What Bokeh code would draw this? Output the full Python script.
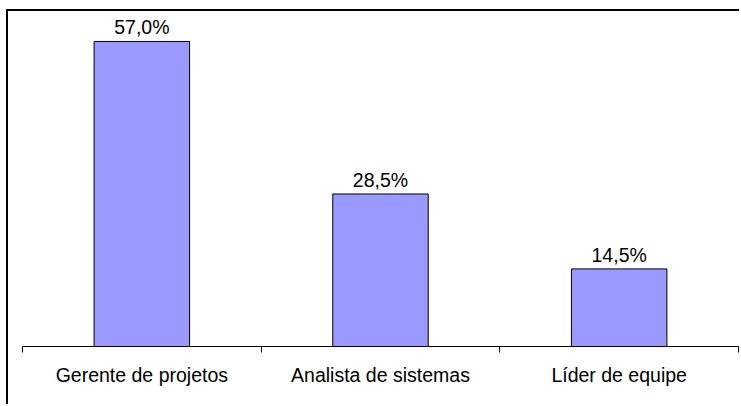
from bokeh.plotting import figure
from bokeh.models import ColumnDataSource, Range1d, LinearAxis, FixedTicker
from bokeh.core.properties import value
from bokeh.embed import file_html
from bokeh.resources import INLINE

# Data
categories = ["Gerente de projetos", "Analista de sistemas", "Líder de equipe"]
shares = [57.0, 28.5, 14.5]
share_labels = [f"{v:.1f}%".replace(".", ",") for v in shares]

FONT = "Liberation Sans"

# Each category occupies one unit-wide slot; bars sit at the slot centres
n = len(categories)
centres = [i + 0.5 for i in range(n)]
source = ColumnDataSource(dict(x=centres, share=shares, label=share_labels))

p = figure(
    x_range=Range1d(0, n),
    y_range=Range1d(0, 62.6),
    width=733, height=395,
    output_backend="svg", toolbar_location=None,
    x_axis_location=None, y_axis_location=None,
    min_border_left=14, min_border_right=3, min_border_top=0, min_border_bottom=60,
)
p.outline_line_color = None
p.xgrid.visible = False
p.ygrid.visible = False
p.background_fill_color = "white"
p.border_fill_color = "white"

# Outer chart frame (top and left edges)
p.styles = {
    "border-top": "2px solid black",
    "border-left": "2px solid black",
    "margin-left": "6px",
    "margin-top": "9px",
}

p.vbar(x="x", top="share", width=0.40, source=source,
       fill_color="#9999FF", line_color="black", line_width=1)

p.text(x="x", y="share", text="label", source=source,
       text_align="center", text_baseline="bottom", y_offset=-3,
       text_font=value(FONT), text_font_size="19.5px", text_color="black")

# Category axis: labels at slot centres, tick marks at slot boundaries
axis = LinearAxis(
    ticker=FixedTicker(ticks=centres, minor_ticks=list(range(n + 1))),
    major_label_overrides={c: name for c, name in zip(centres, categories)},
    major_tick_out=0, major_tick_in=0,
    minor_tick_out=6, minor_tick_in=0,
    axis_line_color="black", minor_tick_line_color="black",
    major_label_standoff=11,
    major_label_text_font=FONT, major_label_text_font_size="19.5px",
    major_label_text_color="black",
)
p.add_layout(axis, "below")

open("out.html", "w").write(file_html(p, INLINE))
